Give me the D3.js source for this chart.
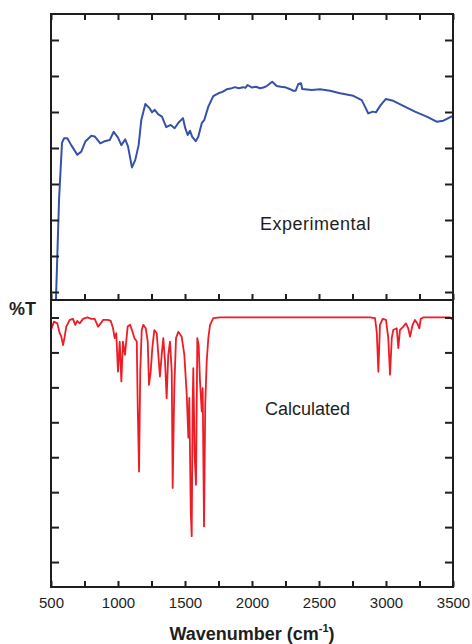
<!DOCTYPE html>
<html>
<head>
<meta charset="utf-8">
<script src="https://cdn.jsdelivr.net/npm/d3@7"></script>
<style>
  html, body { margin: 0; padding: 0; background: #fff; }
  svg { display: block; font-family: "Liberation Sans", Arial, sans-serif; }
</style>
</head>
<body>
<script>
// Measured FTIR spectrum: [wavenumber (cm-1), transmittance (a.u.)]
const experimental = [
  [537, 7.8], [560, 35.6], [582, 51.4], [597, 52.7], [622, 52.7], [651, 50.8],
  [696, 48.1], [726, 49.0], [756, 51.8], [801, 53.4], [826, 53.2], [868, 51.3],
  [901, 51.9], [938, 52.2], [968, 54.5], [1000, 52.9], [1025, 50.8], [1054, 52.4],
  [1075, 50.4], [1104, 44.6], [1129, 46.7], [1154, 50.8], [1174, 57.8], [1204, 62.2],
  [1237, 61.0], [1254, 59.9], [1274, 60.6], [1299, 59.4], [1328, 58.7], [1360, 55.8],
  [1393, 56.4], [1423, 55.5], [1453, 57.1], [1485, 58.3], [1502, 55.5], [1520, 53.6],
  [1537, 54.8], [1554, 53.1], [1580, 51.9], [1599, 53.1], [1625, 56.9], [1644, 57.8],
  [1674, 61.5], [1711, 64.4], [1749, 65.2], [1780, 65.6], [1811, 66.3], [1840, 66.5],
  [1873, 66.9], [1900, 66.6], [1935, 66.9], [1950, 66.7], [1968, 67.5], [1998, 66.8],
  [2030, 67.0], [2060, 66.6], [2085, 66.8], [2110, 67.2], [2151, 68.4], [2184, 67.2],
  [2215, 67.0], [2246, 66.9], [2280, 66.4], [2308, 65.9], [2326, 65.9], [2346, 67.8],
  [2366, 68.0], [2375, 66.4], [2446, 66.1], [2507, 66.3], [2582, 65.9], [2657, 65.2],
  [2756, 64.5], [2819, 63.3], [2843, 61.5], [2868, 59.6], [2901, 60.1], [2925, 59.9],
  [2960, 61.9], [2998, 63.6], [3054, 63.1], [3129, 61.7], [3216, 60.1], [3304, 58.7],
  [3378, 57.3], [3428, 57.6], [3498, 58.9]
];

// DFT-calculated spectrum: [wavenumber (cm-1), %T]
const calculated = [
  [500, 96.4], [522, 98.8], [547, 98.3], [565, 95.5], [577, 94.5], [590, 92.1],
  [602, 94.5], [614, 97.4], [640, 99.3], [664, 99.6], [681, 97.9], [696, 99.0],
  [714, 98.3], [739, 99.6], [771, 100], [801, 99.6], [826, 99.6], [851, 97.4],
  [871, 98.3], [888, 99.3], [925, 99.3], [946, 99.0], [963, 96.9], [975, 94.1],
  [987, 95.5], [1000, 84.5], [1013, 93.1], [1025, 81.7], [1037, 93.1], [1052, 89.3],
  [1072, 97.4], [1090, 97.9], [1107, 96.1], [1122, 94.1], [1140, 93.1], [1147, 75.0],
  [1157, 55.9], [1166, 84.5], [1177, 96.4], [1189, 97.9], [1207, 96.9], [1222, 93.1],
  [1231, 80.7], [1244, 84.5], [1256, 91.2], [1271, 96.4], [1289, 95.5], [1301, 89.3],
  [1313, 83.1], [1326, 89.3], [1338, 94.1], [1351, 87.4], [1363, 76.9], [1375, 89.3],
  [1388, 93.1], [1401, 84.5], [1408, 51.2], [1420, 79.8], [1433, 94.1], [1450, 95.9],
  [1475, 94.5], [1495, 89.3], [1513, 77.9], [1525, 65.6], [1532, 77.0], [1543, 44.5],
  [1550, 37.4], [1557, 75.0], [1562, 85.5], [1572, 60.7], [1582, 52.1], [1592, 94.1],
  [1602, 92.1], [1612, 81.7], [1625, 73.1], [1632, 79.8], [1642, 40.2], [1651, 75.0],
  [1662, 87.4], [1674, 94.1], [1687, 97.9], [1711, 99.8], [1761, 100], [2881, 100],
  [2918, 99.8], [2931, 95.9], [2943, 84.5], [2955, 97.9], [2975, 99.6], [3000, 99.3],
  [3017, 94.1], [3030, 83.6], [3043, 94.1], [3054, 96.4], [3080, 96.9], [3092, 91.2],
  [3104, 96.4], [3129, 97.4], [3149, 98.3], [3166, 96.9], [3179, 94.5], [3199, 97.9],
  [3216, 99.3], [3234, 98.3], [3249, 96.9], [3259, 99.6], [3278, 100], [3478, 100],
  [3500, 99.3]
];

const wavenumberTicks = [500, 750, 1000, 1250, 1500, 1750, 2000, 2250, 2500, 2750, 3000, 3250, 3500];
const wavenumberLabels = ["500", "1000", "1500", "2000", "2500", "3000", "3500"];
const experimentalTicks = [10, 20, 30, 40, 50, 60, 70, 80];
const calculatedTicks = [30, 40, 50, 60, 70, 80, 90, 100];
const panelLabels = ["Experimental", "Calculated"];
const yAxisLabel = "%T";
const xAxisLabel = "Wavenumber (cm";
const xAxisUnitPower = "-1";

const W = 472, H = 644;
const left = 51, right = 453;
const topY0 = 14, midY = 300, botY1 = 587;

const svg = d3.select("body").append("svg")
  .attr("width", W).attr("height", H);

const x = d3.scaleLinear().domain([500, 3500]).range([left, right]);
const yTop = d3.scaleLinear().domain([7.78, 87.22]).range([midY, topY0]);
const yBot = d3.scaleLinear().domain([22.857, 105]).range([botY1, midY]);

const frameColor = "#1e1e1e";
const inkColor = "#1e1e1e";

// clip regions for each panel
const defs = svg.append("defs");
defs.append("clipPath").attr("id", "clipTop").append("rect")
  .attr("x", left).attr("y", topY0).attr("width", right - left).attr("height", midY - topY0);
defs.append("clipPath").attr("id", "clipBot").append("rect")
  .attr("x", left).attr("y", midY).attr("width", right - left).attr("height", botY1 - midY);

// spectra
const lineTop = d3.line().x(d => x(d[0])).y(d => yTop(d[1]));
const lineBot = d3.line().x(d => x(d[0])).y(d => yBot(d[1]));

svg.append("path")
  .datum(experimental)
  .attr("clip-path", "url(#clipTop)")
  .attr("d", lineTop)
  .attr("fill", "none")
  .attr("stroke", "#3552ab")
  .attr("stroke-width", 2)
  .attr("stroke-linejoin", "round");

svg.append("path")
  .datum(calculated)
  .attr("clip-path", "url(#clipBot)")
  .attr("d", lineBot)
  .attr("fill", "none")
  .attr("stroke", "#ee1c25")
  .attr("stroke-width", 1.8)
  .attr("stroke-linejoin", "round");

// axes with inward ticks
function styleAxis(g) {
  g.select(".domain").remove();
  g.selectAll(".tick line").attr("stroke", frameColor).attr("stroke-width", 2);
  g.selectAll(".tick text").attr("fill", inkColor);
}
const noLabel = () => "";

// top panel
svg.append("g").attr("transform", `translate(0,${topY0})`)
  .call(d3.axisTop(x).tickValues(wavenumberTicks).tickSize(-6).tickFormat(noLabel))
  .call(styleAxis);
svg.append("g").attr("transform", `translate(0,${midY})`)
  .call(d3.axisBottom(x).tickValues(wavenumberTicks).tickSize(-6).tickFormat(noLabel))
  .call(styleAxis);
svg.append("g").attr("transform", `translate(${left},0)`)
  .call(d3.axisLeft(yTop).tickValues(experimentalTicks).tickSize(-8).tickFormat(noLabel))
  .call(styleAxis);
svg.append("g").attr("transform", `translate(${right},0)`)
  .call(d3.axisRight(yTop).tickValues(experimentalTicks).tickSize(-8).tickFormat(noLabel))
  .call(styleAxis);

// bottom panel
svg.append("g").attr("transform", `translate(0,${botY1})`)
  .call(d3.axisBottom(x).tickValues(wavenumberTicks).tickSize(-6).tickPadding(10)
    .tickFormat(d => wavenumberLabels.includes(String(d)) ? String(d) : ""))
  .call(styleAxis)
  .call(g => g.selectAll(".tick text").attr("font-size", 15)
    .attr("font-family", "'Liberation Sans', Arial, sans-serif"));
svg.append("g").attr("transform", `translate(${left},0)`)
  .call(d3.axisLeft(yBot).tickValues(calculatedTicks).tickSize(-8).tickFormat(noLabel))
  .call(styleAxis);
svg.append("g").attr("transform", `translate(${right},0)`)
  .call(d3.axisRight(yBot).tickValues(calculatedTicks).tickSize(-8).tickFormat(noLabel))
  .call(styleAxis);

// panel frames
[[topY0, midY], [midY, botY1]].forEach(([a, b]) => {
  svg.append("rect")
    .attr("x", left).attr("y", a)
    .attr("width", right - left).attr("height", b - a)
    .attr("fill", "none").attr("stroke", frameColor).attr("stroke-width", 2);
});

// panel captions
svg.append("text").attr("x", 260).attr("y", 229.5)
  .attr("font-size", 18).attr("letter-spacing", 0.5).attr("fill", inkColor)
  .text(panelLabels[0]);
svg.append("text").attr("x", 265).attr("y", 415)
  .attr("font-size", 18).attr("fill", inkColor)
  .text(panelLabels[1]);

// y label
svg.append("text").attr("x", 9).attr("y", 315)
  .attr("font-size", 18).attr("font-weight", "bold").attr("fill", inkColor)
  .text(yAxisLabel);

// x label with superscript
const xt = svg.append("text").attr("x", (left + right) / 2).attr("y", 640)
  .attr("text-anchor", "middle").attr("font-size", 18).attr("font-weight", "bold")
  .attr("fill", inkColor);
xt.append("tspan").text(xAxisLabel);
xt.append("tspan").attr("font-size", 11).attr("dy", -8).text(xAxisUnitPower);
xt.append("tspan").attr("dy", 8).text(")");
</script>
</body>
</html>
